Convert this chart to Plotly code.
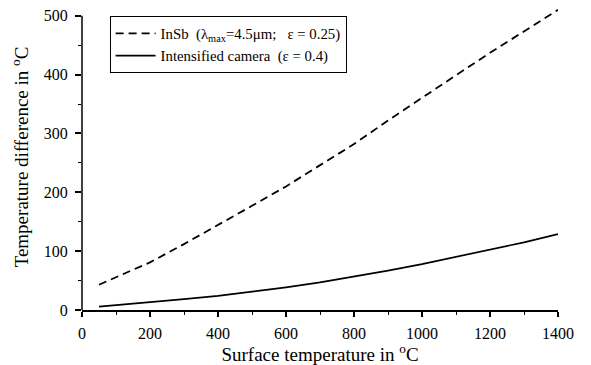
import plotly.graph_objects as go

surface_temp = [50, 100, 200, 300, 400, 500, 600, 700, 800, 900, 1000, 1100, 1200, 1300, 1400]
insb_diff = [43, 56, 81, 112, 144, 177, 210, 246, 282, 322, 361, 399, 437, 473, 510]
camera_diff = [5.6, 8, 13.5, 18.5, 24, 31, 38.5, 47, 56.5, 67, 78, 90, 102, 115, 129]

x_ticks = [0, 200, 400, 600, 800, 1000, 1200, 1400]
y_ticks = [0, 100, 200, 300, 400, 500]

font = "Liberation Serif, Times New Roman, serif"

fig = go.Figure()
fig.add_trace(go.Scatter(
    x=surface_temp, y=insb_diff, mode="lines",
    name="InSb  (λ<sub>max</sub>=4.5μm;   ε = 0.25)",
    line=dict(color="black", width=1.8, dash="8px,5px"),
))
fig.add_trace(go.Scatter(
    x=surface_temp, y=camera_diff, mode="lines",
    name="Intensified camera  (ε = 0.4)",
    line=dict(color="black", width=1.7),
))

fig.add_shape(type="line", xref="paper", yref="y", x0=0, x1=0, y0=0, y1=500,
              line=dict(color="black", width=1.5))

fig.update_layout(
    width=591, height=365,
    margin=dict(l=82, r=33, t=4, b=55),
    paper_bgcolor="white", plot_bgcolor="white",
    font=dict(family=font, color="black", size=16),
    showlegend=True,
    legend=dict(
        x=0.058, y=0.96, xanchor="left", yanchor="top",
        bordercolor="black", borderwidth=1, bgcolor="white",
        font=dict(family=font, size=14.8, color="black"),
        tracegroupgap=0, itemwidth=40,
    ),
    xaxis=dict(
        range=[0, 1400], tickvals=x_ticks, ticks="outside", ticklen=5, tickwidth=1.5,
        tickcolor="black", showline=True, linecolor="black", linewidth=1.5,
        showgrid=False, zeroline=False, ticklabelstandoff=3,
        minor=dict(dtick=100, ticks="outside", ticklen=3, tickwidth=1.2, tickcolor="black", showgrid=False),
        title=dict(text="Surface temperature in <sup>o</sup>C", standoff=4),
        tickfont=dict(size=16),
    ),
    yaxis=dict(
        range=[0, 520], tickvals=y_ticks, ticks="outside", ticklen=6, tickwidth=1.5,
        tickcolor="black", showline=False,
        showgrid=False, zeroline=False, ticklabelstandoff=4,
        minor=dict(tickvals=[50, 150, 250, 350, 450], ticks="outside", ticklen=3, tickwidth=1.2, tickcolor="black", showgrid=False),
        title=dict(text="Temperature difference in <sup>o</sup>C", standoff=10),
        tickfont=dict(size=16),
    ),
)

fig.write_html("out.html")
